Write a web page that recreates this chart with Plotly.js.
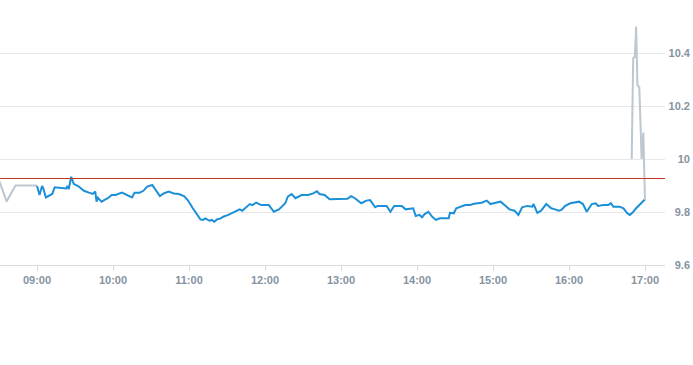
<!DOCTYPE html>
<html>
<head>
<meta charset="utf-8">
<script src="https://cdn.plot.ly/plotly-3.0.1.min.js"></script>
<style>html,body{margin:0;padding:0;background:#fff;}#chart{width:693px;height:365px;}</style>
</head>
<body>
<div id="chart"></div>
<script>
const day = '2024-01-02 ';

const preTimes = ['08:30','08:36','08:43','09:00'];
const preValues = [9.92, 9.84, 9.90, 9.90];

const mainTimes = ['09:00','09:02','09:04','09:05','09:07','09:10','09:12','09:14','09:18','09:23','09:24','09:25','09:27','09:29','09:33','09:37','09:41','09:44','09:46','09:47','09:48','09:51','09:54','09:56','09:59',
'10:02','10:07','10:11','10:15','10:17','10:21','10:24','10:27','10:31','10:33','10:37','10:40','10:44','10:48','10:52','10:56','10:59',
'11:03','11:06','11:09','11:11','11:13','11:16','11:18','11:20','11:22','11:25','11:27','11:31','11:35','11:38','11:40','11:42','11:45','11:48','11:50','11:53','11:57',
'12:03','12:07','12:11','12:16','12:18','12:21','12:24','12:29','12:34','12:38','12:41','12:43','12:47','12:51','12:57',
'13:05','13:08','13:11','13:16','13:20','13:23','13:27','13:29','13:36','13:39','13:42','13:48','13:51','13:57','13:59',
'14:02','14:04','14:06','14:09','14:12','14:15','14:18','14:22','14:25','14:26','14:29','14:31','14:34','14:38','14:42','14:44','14:48','14:51','14:55','14:58',
'15:02','15:06','15:10','15:13','15:17','15:20','15:23','15:27','15:31','15:32','15:35','15:38','15:42','15:46','15:49','15:52','15:54','15:57',
'16:01','16:05','16:08','16:11','16:14','16:18','16:21','16:23','16:27','16:31','16:33','16:35','16:40','16:43','16:46','16:48','16:50','16:53','16:59','17:00'];
const mainValues = [9.898,9.864,9.898,9.889,9.855,9.864,9.868,9.893,9.892,9.889,9.898,9.886,9.933,9.906,9.896,9.880,9.873,9.868,9.877,9.839,9.854,9.839,9.848,9.852,9.864,
9.864,9.873,9.864,9.855,9.873,9.873,9.880,9.896,9.902,9.889,9.860,9.870,9.877,9.870,9.868,9.860,9.845,
9.814,9.795,9.772,9.770,9.776,9.767,9.770,9.763,9.772,9.776,9.782,9.789,9.797,9.805,9.810,9.805,9.818,9.830,9.826,9.835,9.826,
9.826,9.801,9.810,9.833,9.858,9.868,9.852,9.864,9.864,9.870,9.878,9.868,9.864,9.848,9.848,
9.850,9.860,9.852,9.833,9.843,9.845,9.818,9.823,9.823,9.801,9.823,9.823,9.810,9.814,9.785,
9.789,9.780,9.792,9.801,9.782,9.770,9.776,9.776,9.776,9.797,9.795,9.814,9.818,9.826,9.826,9.830,9.833,9.835,9.843,9.830,
9.835,9.839,9.823,9.810,9.805,9.789,9.818,9.823,9.820,9.830,9.797,9.805,9.830,9.814,9.810,9.805,9.808,9.823,
9.833,9.835,9.839,9.830,9.801,9.830,9.833,9.823,9.826,9.826,9.833,9.820,9.820,9.814,9.795,9.789,9.797,9.814,9.845,9.848];

const postTimes = ['16:49:30','16:50:40','16:52:00','16:53:00','16:54:00','16:55:30','16:57:20','16:58:40','16:59:10','17:00:00'];
const postValues = [10.00, 10.38, 10.386, 10.50, 10.28, 10.27, 10.00, 10.10, 10.00, 9.845];

const prevClose = 9.9264;
const yTicks = [9.6, 9.8, 10, 10.2, 10.4];

const labelFont = {family: 'Arial, "Liberation Sans", sans-serif', size: 11, color: '#8593a1', weight: 'bold'};

const traces = [
  {x: preTimes.map(t => day + t), y: preValues, type: 'scatter', mode: 'lines',
   line: {color: '#bcc7cf', width: 2}, hoverinfo: 'skip'},
  {x: mainTimes.map(t => day + t), y: mainValues, type: 'scatter', mode: 'lines',
   line: {color: '#1b8fd8', width: 2}, hoverinfo: 'skip'},
  {x: postTimes.map(t => day + t), y: postValues, type: 'scatter', mode: 'lines', yaxis: 'y2',
   line: {color: '#bcc7cf', width: 2}, hoverinfo: 'skip'}
];

const layout = {
  width: 693, height: 365,
  margin: {l: 0, r: 0, t: 0, b: 100},
  paper_bgcolor: '#fff', plot_bgcolor: '#fff',
  showlegend: false,
  xaxis: {
    type: 'date', domain: [0, 665/693],
    range: [day + '08:30:47', day + '17:15:47'],
    tick0: day + '09:00', dtick: 3600000, tickformat: '%H:%M',
    showgrid: false, zeroline: false,
    showline: true, linecolor: '#d5dce2', linewidth: 1,
    ticks: 'outside', ticklen: 5, tickcolor: '#d5dce2',
    tickfont: labelFont
  },
  yaxis: {
    range: [9.6, 10.6], tickvals: yTicks, showticklabels: false,
    showgrid: true, gridcolor: '#e6e8ea', gridwidth: 1, zeroline: false, side: 'right'
  },
  yaxis2: {
    overlaying: 'y', anchor: 'free', position: 1, side: 'right',
    range: [9.6, 10.6], tickvals: yTicks, ticklabelposition: 'inside',
    ticklabeloverflow: 'allow',
    showgrid: false, zeroline: false, showline: false, ticks: '',
    tickfont: labelFont
  },
  shapes: [{type: 'line', xref: 'paper', x0: 0, x1: 665/693, yref: 'y', y0: prevClose, y1: prevClose,
            line: {color: '#c0392b', width: 1}}]
};

Plotly.newPlot('chart', traces, layout, {staticPlot: true, displayModeBar: false});
</script>
</body>
</html>
